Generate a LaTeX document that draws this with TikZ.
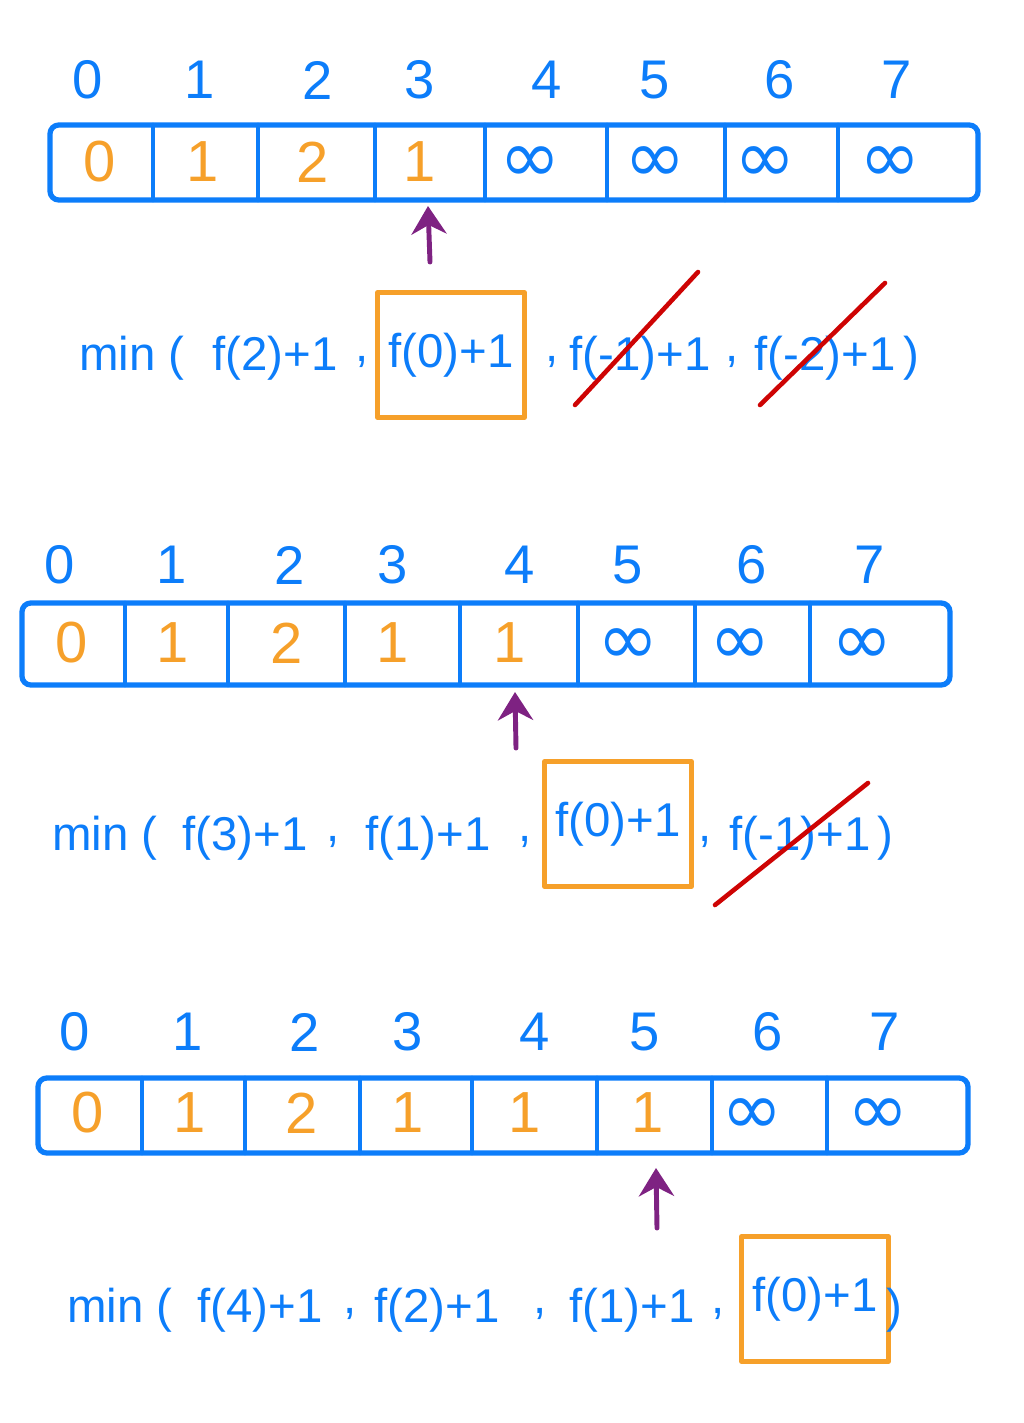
\documentclass[tikz,border=0pt]{standalone}
\usepackage{fontspec}
\setmainfont{Liberation Sans}
\newfontfamily\symfont{DejaVu Sans}
\usetikzlibrary{arrows.meta}
\definecolor{pblue}{RGB}{12,125,250}
\definecolor{porange}{RGB}{246,160,42}
\definecolor{ppurple}{RGB}{126,34,130}
\definecolor{pred}{RGB}{206,4,4}
\tikzset{
  sheet/.style={x=0.02cm,y=-0.02cm,line cap=round,line join=round},
  cellrow/.style={pblue,line width=3pt,rounded corners=5pt},
  cellbar/.style={pblue,line width=2.6pt},
  idx/.style={pblue,font=\fontsize{31}{34}\selectfont},
  val/.style={porange,font=\fontsize{33}{36}\selectfont},
  inf/.style={pblue,font=\symfont\fontsize{42}{44}\selectfont},
  term/.style={pblue,font=\fontsize{27}{32}\selectfont,inner sep=2pt},
  pick/.style={draw=porange,line width=2.6pt,minimum width=2.95cm,minimum height=2.5cm},
  strike/.style={pred,line width=2.6pt},
  cursor/.style={ppurple,line width=2.8pt,-{Stealth[length=16pt,width=20pt]}}
}

\begin{document}
\begin{tikzpicture}[sheet]
  \useasboundingbox (0,0) rectangle (1024,1423);
  % i = 3
  \draw[cellrow] (50,125) rectangle (978,200);
  \foreach \x in {153,258,375,485,607,725,838} \draw[cellbar] (\x,125) -- (\x,200);
  \foreach \x/\d [count=\k] in {88/0,200/1,318/2,420/3,547/4,655/5,780/6,897/7}
    \node[idx] (idxA\k) at (\x,80) {\d};
  \foreach \x/\v [count=\k] in {100/0,203/1,313/2,420/1}
    \node[val] (valA\k) at (\x,162) {\v};
  \foreach \x [count=\k] in {530,655,765,890}
    \node[inf] (infA\k) at (\x,165) {∞};
  \coordinate (tailA) at (430,262);
  \coordinate (tipA) at (428,206);
  \draw[cursor] (tailA) -- (tipA);
  \node[term] (minA) at (132,358) {min (};
  \node[term] (fA1) at (275,358) {f(2)+1};
  \node[term,pick] (fA2) at (451,355) {f(0)+1};
  \node[term] (fA3) at (640,358) {f(-1)+1};
  \node[term] (fA4) at (825,358) {f(-2)+1};
  \node[term] (endA) at (911,358) {)};
  \foreach \x [count=\k] in {362,552,732} \node[term] (commaA\k) at (\x,362) {,};
  \draw[strike] (575,405) -- (698,272);
  \draw[strike] (760,405) -- (885,283);

  % i = 4
  \draw[cellrow] (22,603) rectangle (950,685);
  \foreach \x in {125,228,345,460,578,695,810} \draw[cellbar] (\x,603) -- (\x,685);
  \foreach \x/\d [count=\k] in {60/0,172/1,290/2,393/3,520/4,628/5,752/6,870/7}
    \node[idx] (idxB\k) at (\x,565) {\d};
  \foreach \x/\v [count=\k] in {72/0,173/1,287/2,393/1,510/1}
    \node[val] (valB\k) at (\x,643) {\v};
  \foreach \x [count=\k] in {628,740,862}
    \node[inf] (infB\k) at (\x,647) {∞};
  \coordinate (tailB) at (516,748);
  \coordinate (tipB) at (515,692);
  \draw[cursor] (tailB) -- (tipB);
  \node[term] (minB) at (105,838) {min (};
  \node[term] (fB1) at (245,838) {f(3)+1};
  \node[term] (fB2) at (428,838) {f(1)+1};
  \node[term,pick] (fB3) at (618,824) {f(0)+1};
  \node[term] (fB4) at (800,838) {f(-1)+1};
  \node[term] (endB) at (885,838) {)};
  \foreach \x [count=\k] in {333,525,705} \node[term] (commaB\k) at (\x,842) {,};
  \draw[strike] (715,905) -- (868,783);

  % i = 5
  \draw[cellrow] (38,1078) rectangle (968,1153);
  \foreach \x in {142,245,360,472,597,712,827} \draw[cellbar] (\x,1078) -- (\x,1153);
  \foreach \x/\d [count=\k] in {75/0,188/1,305/2,408/3,535/4,645/5,768/6,885/7}
    \node[idx] (idxC\k) at (\x,1032) {\d};
  \foreach \x/\v [count=\k] in {88/0,190/1,302/2,408/1,525/1,648/1}
    \node[val] (valC\k) at (\x,1113) {\v};
  \foreach \x [count=\k] in {752,878}
    \node[inf] (infC\k) at (\x,1117) {∞};
  \coordinate (tailC) at (657,1228);
  \coordinate (tipC) at (656,1168);
  \draw[cursor] (tailC) -- (tipC);
  \node[term] (minC) at (120,1310) {min (};
  \node[term] (fC1) at (260,1310) {f(4)+1};
  \node[term] (fC2) at (437,1310) {f(2)+1};
  \node[term] (fC3) at (632,1310) {f(1)+1};
  \node[term,pick] (fC4) at (815,1299) {f(0)+1};
  \node[term] (endC) at (894,1310) {)};
  \foreach \x [count=\k] in {350,540,718} \node[term] (commaC\k) at (\x,1314) {,};
\end{tikzpicture}
\end{document}
